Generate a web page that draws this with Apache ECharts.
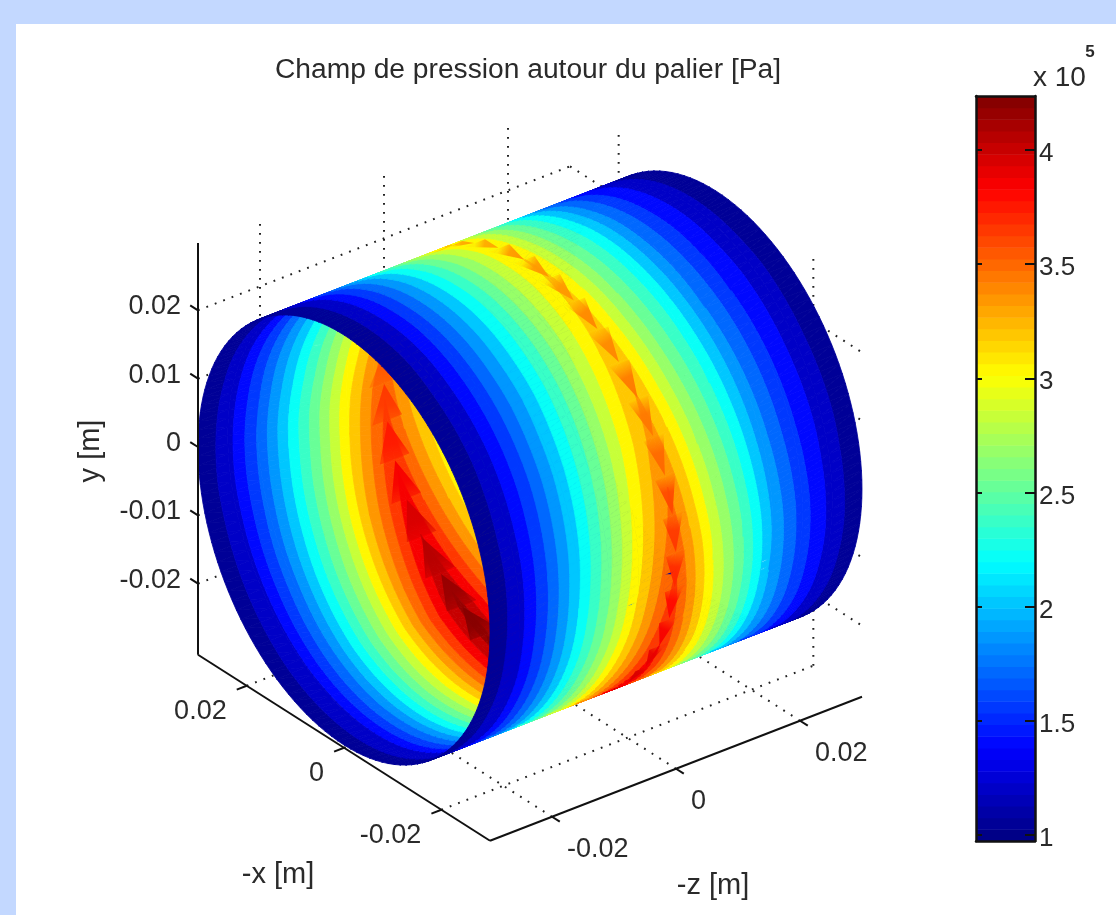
<!DOCTYPE html>
<html><head><meta charset="utf-8">
<style>html,body{margin:0;padding:0;background:#c3d8ff}#c{width:1116px;height:915px;filter:blur(0.55px)}</style>
<script src="https://cdn.jsdelivr.net/npm/echarts@6/dist/echarts.min.js"></script>
</head><body><div id="c"></div>
<script>
// ---------- data ----------
const thetaDeg = [2.5,12.5,22.5,32.5,42.5,52.5,62.5,72.5,82.5,92.5,102.5,112.5,122.5,132.5,142.5,152.5,162.5,172.5,182.5,192.5,202.5,212.5,222.5,232.5,242.5,252.5,262.5,272.5,282.5,292.5,302.5,312.5,322.5,332.5,342.5,352.5];
const zStations = [-0.03,-0.0252,-0.0204,-0.0156,-0.0108,-0.006,-0.0018,0,0.0024,0.006,0.0108,0.0156,0.0204,0.0252,0.03];
const pressure = [
[1,1.23,1.64,2.10,2.56,3.04,3.42,3.55,3.30,2.90,2.43,1.92,1.54,1.23,1],
[1,1.22,1.62,2.06,2.51,2.98,3.35,3.47,3.22,2.84,2.38,1.89,1.52,1.22,1],
[1,1.22,1.60,2.03,2.46,2.92,3.28,3.40,3.16,2.79,2.34,1.86,1.50,1.22,1],
[1,1.21,1.58,2.00,2.42,2.86,3.21,3.33,3.10,2.74,2.30,1.84,1.49,1.21,1],
[1,1.20,1.57,1.98,2.38,2.82,3.16,3.27,3.04,2.69,2.27,1.82,1.48,1.20,1],
[1,1.20,1.56,1.95,2.35,2.78,3.11,3.22,3.00,2.65,2.24,1.80,1.47,1.20,1],
[1,1.20,1.55,1.94,2.33,2.74,3.07,3.18,2.96,2.62,2.22,1.78,1.46,1.20,1],
[1,1.19,1.54,1.92,2.31,2.72,3.04,3.15,2.94,2.60,2.20,1.77,1.45,1.19,1],
[1,1.19,1.53,1.91,2.29,2.70,3.01,3.12,2.91,2.58,2.19,1.76,1.45,1.19,1],
[1,1.19,1.53,1.90,2.28,2.68,3.00,3.10,2.89,2.56,2.18,1.76,1.44,1.19,1],
[1,1.19,1.52,1.89,2.27,2.66,2.98,3.08,2.87,2.55,2.16,1.75,1.44,1.19,1],
[1,1.19,1.52,1.89,2.27,2.66,2.98,3.08,2.87,2.55,2.16,1.75,1.44,1.19,1],
[1,1.19,1.53,1.90,2.28,2.68,3.00,3.10,2.89,2.56,2.18,1.76,1.44,1.19,1],
[1,1.20,1.55,1.94,2.33,2.74,3.07,3.18,2.96,2.62,2.22,1.78,1.46,1.20,1],
[1,1.20,1.56,1.96,2.37,2.79,3.13,3.24,3.02,2.67,2.25,1.81,1.47,1.20,1],
[1,1.21,1.58,1.99,2.40,2.84,3.19,3.30,3.09,2.82,2.43,1.83,1.48,1.21,1],
[1,1.21,1.60,2.02,2.45,2.90,3.26,3.38,3.17,2.88,2.48,1.86,1.50,1.21,1],
[1,1.22,1.61,2.05,2.49,2.96,3.33,3.45,3.23,2.94,2.52,1.88,1.51,1.22,1],
[1,1.23,1.64,2.10,2.56,3.04,3.42,3.55,3.32,3.01,2.58,1.92,1.54,1.23,1],
[1,1.24,1.66,2.13,2.60,3.10,3.50,3.63,3.39,3.08,2.63,1.95,1.55,1.24,1],
[1,1.24,1.68,2.17,2.66,3.18,3.58,3.72,3.48,3.15,2.69,1.98,1.57,1.24,1],
[1,1.25,1.71,2.21,2.72,3.26,3.68,3.82,3.57,3.23,2.75,2.02,1.59,1.25,1],
[1,1.26,1.73,2.26,2.78,3.34,3.77,3.92,3.66,3.31,2.81,2.05,1.61,1.26,1],
[1,1.27,1.76,2.30,2.84,3.42,3.87,4.02,3.75,3.39,2.87,2.09,1.63,1.27,1],
[1,1.28,1.78,2.34,2.90,3.50,3.96,4.12,3.84,3.46,2.93,2.12,1.66,1.28,1],
[1,1.28,1.79,2.35,2.92,3.51,3.98,4.14,3.86,3.48,2.95,2.13,1.66,1.28,1],
[1,1.28,1.79,2.35,2.92,3.51,3.98,4.14,3.86,3.48,2.95,2.13,1.66,1.28,1],
[1,1.28,1.78,2.34,2.90,3.50,3.96,4.12,3.84,3.46,2.93,2.12,1.66,1.28,1],
[1,1.28,1.77,2.32,2.88,3.46,3.93,4.08,3.77,3.29,2.72,2.11,1.65,1.28,1],
[1,1.27,1.76,2.30,2.84,3.42,3.87,4.02,3.72,3.25,2.69,2.09,1.63,1.27,1],
[1,1.27,1.74,2.27,2.80,3.36,3.80,3.95,3.66,3.20,2.65,2.06,1.62,1.27,1],
[1,1.26,1.72,2.24,2.76,3.30,3.74,3.88,3.59,3.15,2.61,2.04,1.60,1.26,1],
[1,1.25,1.71,2.21,2.72,3.26,3.68,3.82,3.54,3.10,2.58,2.02,1.59,1.25,1],
[1,1.25,1.69,2.18,2.68,3.20,3.61,3.75,3.48,3.05,2.54,1.99,1.58,1.25,1],
[1,1.24,1.67,2.15,2.63,3.14,3.55,3.68,3.41,3.00,2.50,1.96,1.56,1.24,1],
[1,1.24,1.66,2.13,2.60,3.10,3.49,3.62,3.36,2.95,2.47,1.94,1.55,1.24,1]
];
// crest pressure at the tip of each herringbone wedge, one per theta station
const crest = [3.67,3.58,3.50,3.46,3.45,3.40,3.37,3.35,3.33,3.32,3.30,3.30,3.30,3.28,3.34,3.40,3.48,3.56,3.66,3.74,3.84,3.94,4.04,4.14,4.22,4.24,4.24,4.22,4.18,4.12,4.05,3.98,3.92,3.85,3.78,3.72];
const xTicks = [0.02,0,-0.02];
const yTicks = [0.02,0.01,0,-0.01,-0.02];
const zTicks = [-0.02,0,0.02];
const barTicks = [1,1.5,2,2.5,3,3.5,4];
const titleText = 'Champ de pression autour du palier [Pa]';

// ---------- view ----------
const radius = 0.03, colorMin = 0.974, colorMax = 4.236, levels = 64, surfaceBands = 20, tSub = 4;
const box = {x:[-0.03,0.03], y:[-0.0304,0.02985], z:[-0.03,0.03]};
const view = {cx:530, cy:468, ux:-146/0.03, uy:-93/0.03, zx:186/0.03, zy:-72/0.03, yy:-205/0.03};
const project = (u,y,w) => [view.cx+u*view.ux+w*view.zx, view.cy+u*view.uy+w*view.zy+y*view.yy];
const surf = (tDeg,w) => { const t=tDeg*Math.PI/180; return project(-radius*Math.cos(t), radius*Math.sin(t), w); };
const clamp = v => Math.max(0,Math.min(1,v));
const jet = []; for(let i=0;i<levels;i++){const x=(i+0.5)/levels;
  jet.push('rgb('+[4*x-3,4*x-2,4*x-1].map(d=>Math.round(255*clamp(1.5-Math.abs(d)))).join(',')+')');}
const levelValue = i => colorMin+(colorMax-colorMin)*i/levels;
const levelOf = v => Math.max(0,Math.min(levels-1,Math.floor((v-colorMin)/(colorMax-colorMin)*levels)));
const bandValue = k => colorMin+(colorMax-colorMin)*k/surfaceBands;
const bandOf = v => Math.max(0,Math.min(surfaceBands-1,Math.floor((v-colorMin)/(colorMax-colorMin)*surfaceBands)));
const bandColor = k => jet[Math.floor((k+0.5)*levels/surfaceBands)];
const rowT = i => i<thetaDeg.length ? thetaDeg[i] : thetaDeg[i-thetaDeg.length]+360;
const rowP = i => pressure[i%thetaDeg.length];
const cross = (a,b,c) => (b[0]-a[0])*(c[1]-a[1])-(b[1]-a[1])*(c[0]-a[0]);

// surface: each table cell is shaded across its two triangles, with the
// theta side cut finer only so that the round rim stays round
const tris = [];
for(let i=0;i<thetaDeg.length;i++){
  const t0=rowT(i), t1=rowT(i+1), p0=pressure[i], p1=rowP(i+1);
  for(let j=0;j<zStations.length-1;j++){
    for(let k=0;k<tSub;k++){
      const f0=k/tSub,f1=(k+1)/tSub;
      const n=(f,col)=>{const p=surf(t0+(t1-t0)*f,zStations[col]);return [p[0],p[1],p0[col]+(p1[col]-p0[col])*f];};
      const A=n(f0,j),B=n(f1,j),C=n(f1,j+1),D=n(f0,j+1);
      tris.push({pts:[A,B,C],front:cross(A,B,C)>0});
      tris.push({pts:[A,C,D],front:cross(A,C,D)>0});
    }
  }
  // herringbone wedge of this station: tip at the station, opening towards the next
  const fr=cross(surf(t0,0),surf(t0+5,0),surf(t0,0.01))>0;
  const dw=fr?0.0016:0.0024;
  const tp=surf(t0,0), bl=surf(t0+9.6,dw), br=surf(t0+9.6,-dw), bm=surf(t0+9.6,0);
  tris.push({wedge:true,front:fr,tip:tp,l:bl,r:br,m:bm,value:crest[i]});
}
const order = tris.map((t,k)=>[(t.front?2:0)+(t.wedge?1:0),k]).sort((a,b)=>a[0]-b[0]||a[1]-b[1]).map(o=>o[1]);

function clipBand(pts,lo,hi){
  const clip=(poly,keep,val)=>{const out=[];
    for(let i=0;i<poly.length;i++){const p=poly[i],q=poly[(i+1)%poly.length];
      const kp=keep(p[2]),kq=keep(q[2]);
      if(kp)out.push(p);
      if(kp!==kq){const f=(val-p[2])/(q[2]-p[2]);out.push([p[0]+f*(q[0]-p[0]),p[1]+f*(q[1]-p[1]),val]);}
    } return out;};
  let r=clip(pts,v=>v>=lo,lo); if(r.length<3)return r;
  return clip(r,v=>v<=hi,hi);
}
function renderSurface(params,api){
  const t=tris[order[params.dataIndex]];
  if(t.wedge){
    const a=api.coord(t.tip),b=api.coord(t.l),c=api.coord(t.r),m=api.coord(t.m);
    const col=jet[levelOf(t.value)], rgba=al=>col.replace('rgb','rgba').replace(')',','+al+')');
    return {type:'polygon',shape:{points:[a,b,c]},style:{
      fill:new echarts.graphic.LinearGradient(a[0],a[1],m[0],m[1],[
        {offset:0,color:col},{offset:0.6,color:rgba(0.9)},{offset:1,color:rgba(t.front?0.1:0.45)}],true)}};
  }
  const vs=t.pts.map(p=>p[2]);
  const bmin=bandOf(Math.min.apply(null,vs)), bmax=bandOf(Math.max.apply(null,vs));
  const children=[];
  for(let B=bmin;B<=bmax;B++){
    const poly=clipBand(t.pts,B===bmin?-1:bandValue(B),B===bmax?99:bandValue(B+1));
    if(poly.length<3)continue;
    const c=bandColor(B);
    children.push({type:'polygon',shape:{points:poly.map(p=>api.coord([p[0],p[1]]))},
      style:{fill:c,stroke:c,lineWidth:0.8,lineJoin:'round'}});
  }
  return {type:'group',children};
}

// ---------- grid and axes (3D endpoints come from the tick arrays) ----------
const xb=box.x,yb=box.y,zb=box.z;
const dotted=[];
zTicks.forEach(w=>{dotted.push([[xb[1],yb[0],w],[xb[1],yb[1],w]]);dotted.push([[xb[0],yb[0],w],[xb[1],yb[0],w]]);});
xTicks.forEach(u=>{dotted.push([[u,yb[0],zb[1]],[u,yb[1],zb[1]]]);dotted.push([[u,yb[0],zb[0]],[u,yb[0],zb[1]]]);});
yTicks.forEach(y=>{dotted.push([[xb[1],y,zb[0]],[xb[1],y,zb[1]]]);dotted.push([[xb[1],y,zb[1]],[xb[0],y,zb[1]]]);});
const solid=[
 [[xb[1],yb[0],zb[0]],[xb[1],yb[1],zb[0]]],
 [[xb[1],yb[0],zb[0]],[xb[0],yb[0],zb[0]]],
 [[xb[0],yb[0],zb[0]],[xb[0],yb[0],zb[1]]]
];
const tickLen=0.0016;
xTicks.forEach(u=>solid.push([[u,yb[0],zb[0]],[u,yb[0],zb[0]-tickLen]]));
zTicks.forEach(w=>solid.push([[xb[0],yb[0],w],[xb[0]-tickLen,yb[0],w]]));
yTicks.forEach(y=>solid.push([[xb[1],y,zb[0]],[xb[1]+tickLen,y,zb[0]]]));
const segRender=(list,style)=>(params,api)=>{const s=list[params.dataIndex];
  const a=project(...s[0]),b=project(...s[1]),ca=api.coord(a),cb=api.coord(b);
  return {type:'line',shape:{x1:ca[0],y1:ca[1],x2:cb[0],y2:cb[1]},style};};
const fmt=v=>String(v);
const labels=[];
xTicks.forEach(u=>{const p=project(u,yb[0],zb[0]);labels.push({p,dx:-20,dy:26,text:fmt(u),align:'right'});});
zTicks.forEach(w=>{const p=project(xb[0],yb[0],w);labels.push({p,dx:15,dy:33,text:fmt(w),align:'left'});});
yTicks.forEach(y=>{const p=project(xb[1],y,zb[0]);labels.push({p,dx:-17,dy:-3.5,text:fmt(y),align:'right'});});
const FONT='"Liberation Sans",Arial,sans-serif', INK='#2a2a2a', FS=27;
const renderLabel=(params,api)=>{const l=labels[params.dataIndex],c=api.coord(l.p);
  return {type:'text',x:c[0]+l.dx,y:c[1]+l.dy,style:{text:l.text,align:l.align,verticalAlign:'middle',fill:INK,font:FS+'px '+FONT}};};
const renderBarLabel=(params,api)=>{const v=barTicks[params.dataIndex],c=api.coord([1,v]);
  return {type:'text',x:c[0]+4,y:c[1]+4,style:{text:String(v),align:'left',verticalAlign:'middle',fill:INK,font:'26px '+FONT}};};

const barLevels=jet.map((c,i)=>i);
const renderBar=(params,api)=>{const i=barLevels[params.dataIndex];
  const a=api.coord([0,levelValue(i)]),b=api.coord([1,levelValue(i+1)]);
  return {type:'rect',shape:{x:a[0],y:b[1],width:b[0]-a[0],height:a[1]-b[1]+0.5},style:{fill:jet[i]}};};

const idxData=a=>a.map((_,i)=>[i]);
const free=t=>({type:'text',silent:true,z:20,...t});
const nameFont='29px '+FONT;
const option={
 animation:false,
 backgroundColor:'#c3d8ff',
 title:{text:titleText,left:523,top:51,textAlign:'center',textStyle:{fontFamily:FONT,fontWeight:'normal',fontSize:28.2,color:INK}},
 grid:[{left:0,top:0,width:1116,height:915},{left:976,top:96,width:59,height:745}],
 xAxis:[{type:'value',min:0,max:1116,show:false,gridIndex:0},
  {type:'value',min:0,max:1,gridIndex:1,position:'bottom',z:5,axisLine:{show:true,lineStyle:{color:'#111',width:2.5}},axisTick:{show:false},axisLabel:{show:false},splitLine:{show:false}},
  {type:'value',min:0,max:1,gridIndex:1,position:'top',z:5,axisLine:{show:true,lineStyle:{color:'#111',width:2.5}},axisTick:{show:false},axisLabel:{show:false},splitLine:{show:false}}],
 yAxis:[{type:'value',min:0,max:915,inverse:true,show:false,gridIndex:0},
  {type:'value',min:colorMin,max:colorMax,gridIndex:1,position:'right',z:5,splitLine:{show:false},
   axisLine:{show:true,onZero:false,lineStyle:{color:'#111',width:2.5}},
   axisTick:{show:true,inside:true,length:10,customValues:barTicks,lineStyle:{color:'#111',width:2}},
   axisLabel:{show:false}},
  {type:'value',min:colorMin,max:colorMax,gridIndex:1,position:'left',z:5,splitLine:{show:false},
   axisLine:{show:true,onZero:false,lineStyle:{color:'#111',width:2.5}},
   axisTick:{show:true,inside:true,length:6,customValues:barTicks,lineStyle:{color:'#111',width:2}},
   axisLabel:{show:false}}],
 graphic:[
  {type:'rect',z:-1,silent:true,shape:{x:16,y:24,width:1100,height:891},style:{fill:'#fff'}},
  free({x:278,y:875,style:{text:'-x [m]',font:nameFont,fill:INK,align:'center',verticalAlign:'middle'}}),
  free({x:713,y:886,style:{text:'-z [m]',font:nameFont,fill:INK,align:'center',verticalAlign:'middle'}}),
  free({x:91,y:451,rotation:Math.PI/2,style:{text:'y [m]',font:nameFont,fill:INK,align:'center',verticalAlign:'middle'}}),
  free({x:1033,y:78,style:{text:'x 10',font:'28px '+FONT,fill:INK,align:'left',verticalAlign:'middle'}}),
  free({x:1090,y:52,style:{text:'5',font:'bold 17px '+FONT,fill:INK,align:'center',verticalAlign:'middle'}})
 ],
 series:[
  {type:'custom',name:'grid',z:1,clip:false,silent:true,xAxisIndex:0,yAxisIndex:0,data:idxData(dotted),encode:{x:0,y:0},
   renderItem:segRender(dotted,{stroke:'#222',lineWidth:2,lineDash:[1.8,7.2],fill:null})},
  {type:'custom',name:'pressure',z:2,clip:false,silent:true,progressive:0,xAxisIndex:0,yAxisIndex:0,data:idxData(order),encode:{x:0,y:0},renderItem:renderSurface},
  {type:'custom',name:'axes',z:3,clip:false,silent:true,xAxisIndex:0,yAxisIndex:0,data:idxData(solid),encode:{x:0,y:0},
   renderItem:segRender(solid,{stroke:'#111',lineWidth:2,fill:null})},
  {type:'custom',name:'tickLabels',z:4,clip:false,silent:true,xAxisIndex:0,yAxisIndex:0,data:idxData(labels),encode:{x:0,y:0},renderItem:renderLabel},
  {type:'custom',name:'colorbar',z:2,clip:false,silent:true,xAxisIndex:1,yAxisIndex:1,data:idxData(barLevels),encode:{x:0,y:0},renderItem:renderBar},
  {type:'custom',name:'colorbarLabels',z:4,clip:false,silent:true,xAxisIndex:1,yAxisIndex:1,data:idxData(barTicks),encode:{x:0,y:0},renderItem:renderBarLabel}
 ]
};
const chart=echarts.init(document.getElementById('c'));
chart.setOption(option);
</script></body></html>
